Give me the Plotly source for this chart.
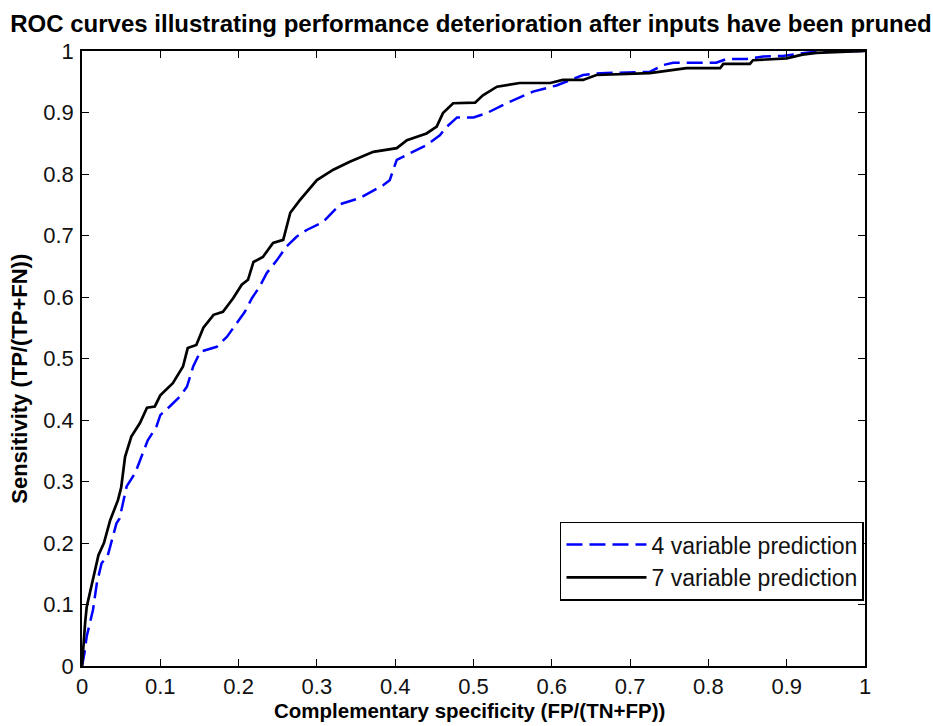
import plotly.graph_objects as go

fpr7 = [0, 0.002, 0.004, 0.006, 0.012, 0.021, 0.028, 0.036, 0.046, 0.05, 0.055, 0.063, 0.074, 0.083,
        0.093, 0.1, 0.116, 0.129, 0.135, 0.146, 0.155, 0.168, 0.18, 0.193, 0.204, 0.212, 0.219,
        0.231, 0.244, 0.257, 0.266, 0.278, 0.3, 0.321, 0.342, 0.372, 0.402, 0.415, 0.44, 0.453,
        0.461, 0.474, 0.502, 0.512, 0.53, 0.559, 0.598, 0.614, 0.64, 0.657, 0.725, 0.772, 0.815,
        0.819, 0.853, 0.857, 0.9, 0.92, 0.938, 0.968, 1.0]
tpr7 = [0, 0.04, 0.07, 0.096, 0.13, 0.18, 0.2, 0.237, 0.27, 0.29, 0.34, 0.373, 0.395, 0.42,
        0.422, 0.44, 0.46, 0.487, 0.517, 0.522, 0.55, 0.571, 0.576, 0.598, 0.62, 0.628, 0.657,
        0.665, 0.688, 0.693, 0.737, 0.757, 0.79, 0.807, 0.82, 0.836, 0.842, 0.855, 0.866, 0.877,
        0.899, 0.915, 0.916, 0.928, 0.942, 0.948, 0.948, 0.953, 0.953, 0.961, 0.964, 0.972, 0.972,
        0.979, 0.979, 0.985, 0.988, 0.994, 0.997, 0.998, 1.0]

fpr4 = [0, 0.003, 0.006, 0.014, 0.019, 0.025, 0.033, 0.038, 0.044, 0.048, 0.057, 0.068, 0.078,
        0.084, 0.095, 0.1, 0.112, 0.125, 0.134, 0.142, 0.151, 0.172, 0.185, 0.198, 0.208, 0.217,
        0.227, 0.236, 0.249, 0.261, 0.274, 0.287, 0.308, 0.33, 0.355, 0.385, 0.393, 0.402, 0.423,
        0.44, 0.457, 0.466, 0.479, 0.5, 0.517, 0.542, 0.576, 0.606, 0.64, 0.662, 0.725, 0.742,
        0.755, 0.81, 0.823, 0.849, 0.87, 0.895, 0.925, 0.938, 1.0]
tpr4 = [0, 0.02, 0.048, 0.091, 0.135, 0.167, 0.18, 0.205, 0.232, 0.24, 0.292, 0.314, 0.346,
        0.367, 0.389, 0.408, 0.422, 0.438, 0.454, 0.487, 0.511, 0.519, 0.535, 0.558, 0.576, 0.598,
        0.617, 0.639, 0.66, 0.682, 0.698, 0.709, 0.722, 0.751, 0.761, 0.782, 0.79, 0.823, 0.836,
        0.847, 0.863, 0.877, 0.892, 0.892, 0.899, 0.915, 0.934, 0.944, 0.961, 0.964, 0.966, 0.977,
        0.981, 0.981, 0.987, 0.987, 0.991, 0.992, 0.997, 0.999, 1.0]

tick_vals = [0, 0.1, 0.2, 0.3, 0.4, 0.5, 0.6, 0.7, 0.8, 0.9, 1]
tick_text = ["0", "0.1", "0.2", "0.3", "0.4", "0.5", "0.6", "0.7", "0.8", "0.9", "1"]

title_text = "ROC curves illustrating performance deterioration after inputs have been pruned"
xlabel_text = "Complementary specificity (FP/(TN+FP))"
ylabel_text = "Sensitivity (TP/(TP+FN))"

FONT = "Liberation Sans"

fig = go.Figure()
fig.add_trace(go.Scatter(x=fpr4, y=tpr4, mode="lines", name="4 variable prediction",
                         line=dict(color="#0000ff", width=2.5, dash="16px,7px")))
fig.add_trace(go.Scatter(x=fpr7, y=tpr7, mode="lines", name="7 variable prediction",
                         line=dict(color="#000000", width=2.7)))

axis_common = dict(range=[0, 1], tickvals=tick_vals, ticktext=tick_text, ticks="inside",
                   ticklen=7, tickwidth=1.2, tickcolor="black", showline=True, linecolor="black",
                   linewidth=1.5, mirror="ticks", showgrid=False, zeroline=False,
                   tickfont=dict(family=FONT, size=22, color="#111111"))

fig.update_layout(
    width=933, height=726,
    margin=dict(l=82, r=68, t=51, b=60),
    paper_bgcolor="white", plot_bgcolor="white",
    title=dict(text="<b>" + title_text + "</b>",
               x=471 / 933, xanchor="center", y=1 - 24 / 726, yanchor="middle", yref="container",
               font=dict(family=FONT, size=24, color="black")),
    xaxis=dict(axis_common),
    yaxis=dict(axis_common, ticklabelstandoff=2),
    legend=dict(x=0.9987, xanchor="right", y=0.2348, yanchor="top", bgcolor="white",
                bordercolor="black", borderwidth=1.5, itemwidth=80,
                font=dict(family=FONT, size=23, color="#111111")),
    showlegend=True,
    annotations=[
        dict(text="<b>" + xlabel_text + "</b>", xref="paper", yref="paper",
             x=(469 - 82) / 783, y=(666.5 - 711) / 615.5, xanchor="center", yanchor="middle",
             showarrow=False, font=dict(family=FONT, size=20.5, color="black")),
        dict(text="<b>" + ylabel_text + "</b>", xref="paper", yref="paper", textangle=-90,
             x=(20 - 82) / 783, y=(666.5 - 379) / 615.5, xanchor="center", yanchor="middle",
             showarrow=False, font=dict(family=FONT, size=22, color="black")),
    ],
)

fig.write_html("out.html")
